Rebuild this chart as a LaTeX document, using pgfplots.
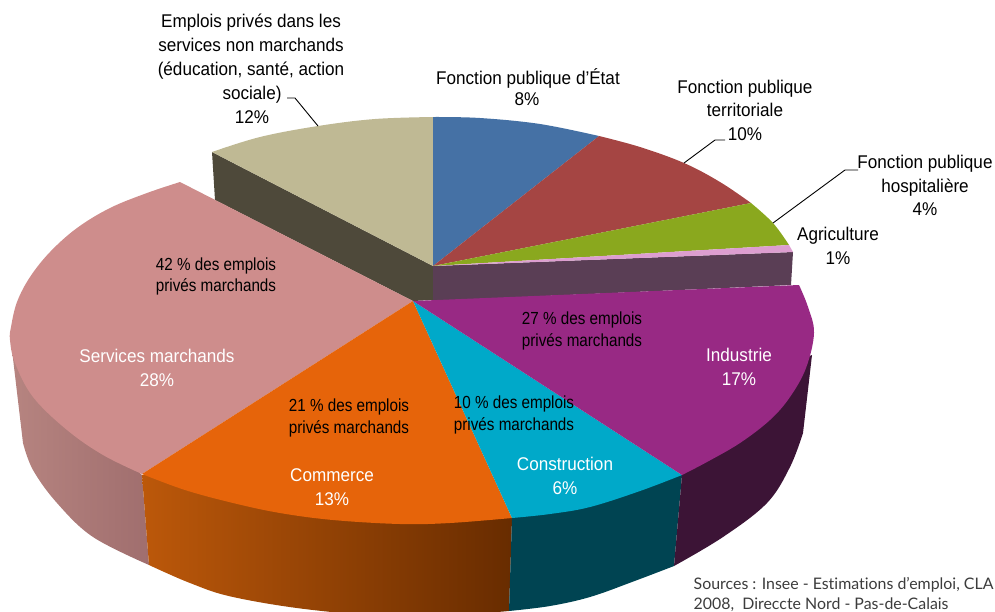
\documentclass[border=0pt]{standalone}
\usepackage{fontspec}
\usepackage{pgfplots}
\pgfplotsset{compat=1.18}
\setmainfont{Liberation Sans}
\newfontfamily\srcfont[Ligatures=NoCommon]{Lato}
\newfontfamily\lblfont[FakeStretch=0.93]{Liberation Sans}
\newfontfamily\smlfont[FakeStretch=0.87]{Liberation Sans}
\definecolor{cblue}{RGB}{69,113,165}
\definecolor{cred}{RGB}{165,69,67}
\definecolor{cgreen}{RGB}{138,168,30}
\definecolor{cpink}{RGB}{221,158,208}
\definecolor{ctan}{RGB}{191,185,148}
\definecolor{csalmon}{RGB}{206,141,140}
\definecolor{corange}{RGB}{230,100,10}
\definecolor{ccyan}{RGB}{0,169,201}
\definecolor{cpurple}{RGB}{152,41,132}
\definecolor{wtan}{RGB}{78,73,58}
\definecolor{wplum}{RGB}{90,62,85}
\newcommand\lbl[3]{\node[anchor=base,text=#1,font=\lblfont\fontsize{18.4}{18.4}\selectfont,inner sep=0pt] at (axis cs:#2) {#3};}
\newcommand\sml[2]{\node[anchor=base,text=black,font=\smlfont\fontsize{17.5}{17.5}\selectfont,inner sep=0pt] at (axis cs:#1) {#2};}
\begin{document}
\begin{tikzpicture}[x=1pt,y=1pt]
\path[use as bounding box,clip] (0,0) rectangle (995,611);
\begin{axis}[at={(0,0)},anchor=south west,scale only axis,width=995pt,height=611pt,
  xmin=0,xmax=995,ymin=0,ymax=611,y dir=reverse,axis lines=none,clip=false]
% walls
\addplot[draw=none,fill=wtan] coordinates {(212,152)(433,266)(433,300)(413,301)(215,200)(212,152)} -- cycle;
\addplot[draw=none,fill=wplum] coordinates {(433,266)(793,252)(791,285)(433,301)} -- cycle;
\addplot[draw=none,shade,left color={rgb,255:red,182;green,132;blue,128},right color={rgb,255:red,160;green,110;blue,110},smooth,tension=0.6]
  coordinates {(23,443)(33,470)(57,503)(93,537)(149,565)} -- (axis cs:142,475) -- (axis cs:60,400) -- (axis cs:12,340) -- (axis cs:12,350) -- cycle;
\addplot[draw=none,shade,left color={rgb,255:red,188;green,88;blue,10},right color={rgb,255:red,104;green,44;blue,0},smooth,tension=0.6]
  coordinates {(149,565)(190,583)(233,597)(313,610)(410,617)(509,611)} -- (axis cs:512,518) -- (axis cs:413,450) -- (axis cs:142,475) -- cycle;
\addplot[draw=none,fill={rgb,255:red,0;green,68;blue,82},smooth,tension=0.6]
  coordinates {(509,611)(550,606)(590,597)(632,582)(674,566)} -- (axis cs:682,475) -- (axis cs:560,450) -- (axis cs:512,518) -- cycle;
\addplot[draw=none,fill={rgb,255:red,60;green,20;blue,54},smooth,tension=0.6]
  coordinates {(674,566)(723,537)(767,503)(790,467)(803,433)} -- (axis cs:812,355) -- (axis cs:700,400) -- (axis cs:682,475) -- cycle;
% back slices
\addplot[draw=none,fill=ctan,smooth,tension=0.6] coordinates {(212,152)(260,137)(318,126)(375,119)(433,117)} -- (axis cs:433,266) -- cycle;
\addplot[draw=none,fill=cblue,smooth,tension=0.6] coordinates {(433,117)(480,118)(540,124)(599,136)} -- (axis cs:433,266) -- cycle;
\addplot[draw=none,fill=cred,smooth,tension=0.6] coordinates {(599,136)(640,147)(684,163)(720,182)(751,203)} -- (axis cs:433,266) -- cycle;
\addplot[draw=none,fill=cgreen,smooth,tension=0.6] coordinates {(751,203)(773,223)(789,245)} -- (axis cs:433,266) -- cycle;
\addplot[draw=none,fill=cpink] coordinates {(433,266)(789,245)(793,252)} -- cycle;
% front slices
\addplot[draw=none,fill=csalmon,smooth,tension=0.6] coordinates {(180,182)(147,193)(110,208)(77,228)(50,252)(30,277)(17,302)(11,327)(10,340)(15,363)(33,397)(67,430)(103,455)(142,474)} -- (axis cs:413,301) -- cycle;
\addplot[draw=none,fill=corange,smooth,tension=0.6] coordinates {(142,474)(185,490)(233,503)(280,513)(333,520)(400,524)(450,523)(512,518)} -- (axis cs:413,301) -- cycle;
\addplot[draw=none,fill=ccyan,smooth,tension=0.6] coordinates {(512,518)(550,514)(590,507)(640,491)(682,475)} -- (axis cs:413,301) -- cycle;
\addplot[draw=none,fill=cpurple,smooth,tension=0.6] coordinates {(682,475)(707,462)(740,443)(770,420)(790,397)(806,368)(814,333)(808,307)(799,285)} -- (axis cs:413,301) -- cycle;
% leaders
\addplot[black,line width=0.9pt] coordinates {(287,98)(295,98)(318,126)};
\addplot[black,line width=0.9pt] coordinates {(725,140)(715,140)(684,163)};
\addplot[black,line width=0.9pt] coordinates {(858,170)(845,170)(773,223)};
% labels
\lbl{black}{251,27}{Emplois privés dans les}
\lbl{black}{251,51}{services non marchands}
\lbl{black}{251,75}{(éducation, santé, action}
\lbl{black}{252,99}{sociale)}
\lbl{black}{252,123}{12\%}
\lbl{black}{528,84}{Fonction publique d’État}
\lbl{black}{527,105}{8\%}
\lbl{black}{745,93}{Fonction publique}
\lbl{black}{745,116}{territoriale}
\lbl{black}{745,140}{10\%}
\lbl{black}{925,168}{Fonction publique}
\lbl{black}{925,192}{hospitalière}
\lbl{black}{925,215}{4\%}
\lbl{black}{838,240}{Agriculture}
\lbl{black}{838,264}{1\%}
\sml{216,270}{42 \% des emplois}
\sml{216,291}{privés marchands}
\lbl{white}{157,362}{Services marchands}
\lbl{white}{157,386}{28\%}
\sml{349,411}{21 \% des emplois}
\sml{349,433}{privés marchands}
\lbl{white}{332,481}{Commerce}
\lbl{white}{332,505}{13\%}
\sml{514,408}{10 \% des emplois}
\sml{514,430}{privés marchands}
\lbl{white}{565,470}{Construction}
\lbl{white}{565,494}{6\%}
\sml{582,324}{27 \% des emplois}
\sml{582,346}{privés marchands}
\lbl{white}{739,361}{Industrie}
\lbl{white}{739,385}{17\%}
\node[anchor=base west,inner sep=0pt,text={rgb,255:red,60;green,60;blue,60},font=\srcfont\fontsize{15.9}{15.9}\selectfont] at (axis cs:693.5,589) {Sources : Insee - Estimations d’emploi, CLA};
\node[anchor=base west,inner sep=0pt,text={rgb,255:red,60;green,60;blue,60},font=\srcfont\fontsize{15.9}{15.9}\selectfont] at (axis cs:693.5,609) {2008,\ \ Direccte Nord - Pas-de-Calais};
\end{axis}
\end{tikzpicture}
\end{document}
